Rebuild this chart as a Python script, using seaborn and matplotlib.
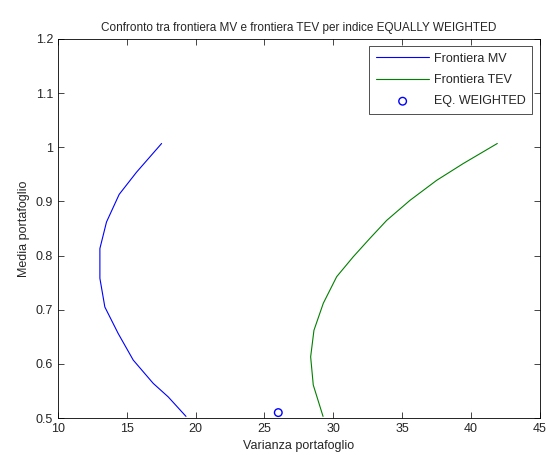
import matplotlib
matplotlib.use("Agg")
import matplotlib.pyplot as plt
import seaborn as sns
import pandas as pd

mv_var = [19.30, 18.01, 16.92, 15.47, 14.38, 13.41, 13.05, 13.05, 13.53, 14.45, 15.71, 17.53]
mv_mean = [0.503, 0.539, 0.564, 0.607, 0.656, 0.705, 0.758, 0.813, 0.862, 0.913, 0.954, 1.007]
tev_var = [29.25, 28.54, 28.35, 28.59, 29.27, 30.24, 31.45, 32.66, 33.87, 35.56, 37.50, 39.43, 41.90]
tev_mean = [0.503, 0.561, 0.613, 0.662, 0.712, 0.761, 0.798, 0.832, 0.865, 0.902, 0.939, 0.970, 1.007]
eq_var = [26.0]
eq_mean = [0.51]

sns.set_style("ticks")
plt.rcParams['font.family'] = ['Liberation Sans', 'DejaVu Sans']

fig = plt.figure(figsize=(5.46, 4.55), dpi=100)
ax = fig.add_axes([0.106, 0.0813, 0.883, 0.833])

mv = pd.DataFrame({"var": mv_var, "mean": mv_mean})
tev = pd.DataFrame({"var": tev_var, "mean": tev_mean})
eq = pd.DataFrame({"var": eq_var, "mean": eq_mean})

sns.lineplot(data=mv, x="var", y="mean", sort=False, estimator=None, color=(0, 0, 1), lw=0.8, ax=ax, label="Frontiera MV")
sns.lineplot(data=tev, x="var", y="mean", sort=False, estimator=None, color=(0, 0.5, 0), lw=0.8, ax=ax, label="Frontiera TEV")
sns.scatterplot(data=eq, x="var", y="mean", marker="o", s=30, facecolor="none", edgecolor=(0, 0, 1), linewidth=1, ax=ax, label="EQ. WEIGHTED", clip_on=False, zorder=5)

ax.set_xlim(10, 45)
ax.set_ylim(0.5, 1.2)
ax.set_xticks([10, 15, 20, 25, 30, 35, 40, 45])
ax.set_yticks([0.5, 0.6, 0.7, 0.8, 0.9, 1.0, 1.1, 1.2])
ax.set_yticklabels(["0.5", "0.6", "0.7", "0.8", "0.9", "1", "1.1", "1.2"])
ax.tick_params(direction="in", length=4, width=0.6, labelsize=9, top=True, right=True)
for s in ax.spines.values():
    s.set_visible(True)
    s.set_linewidth(0.6)
    s.set_color("black")
ax.set_xlabel("Varianza portafoglio", fontsize=9)
ax.set_ylabel("Media portafoglio", fontsize=9)
ax.set_title("Confronto tra frontiera MV e frontiera TEV per indice EQUALLY WEIGHTED", fontsize=8.5, pad=6)

leg = ax.legend(loc="upper right", fontsize=9, frameon=True, fancybox=False, edgecolor="black",
                handlelength=4.3, borderaxespad=0.6, labelspacing=0.75, handletextpad=0.4,
                borderpad=0.5)
leg.get_frame().set_linewidth(0.6)

fig.savefig("out.png", dpi=100, facecolor="white")
